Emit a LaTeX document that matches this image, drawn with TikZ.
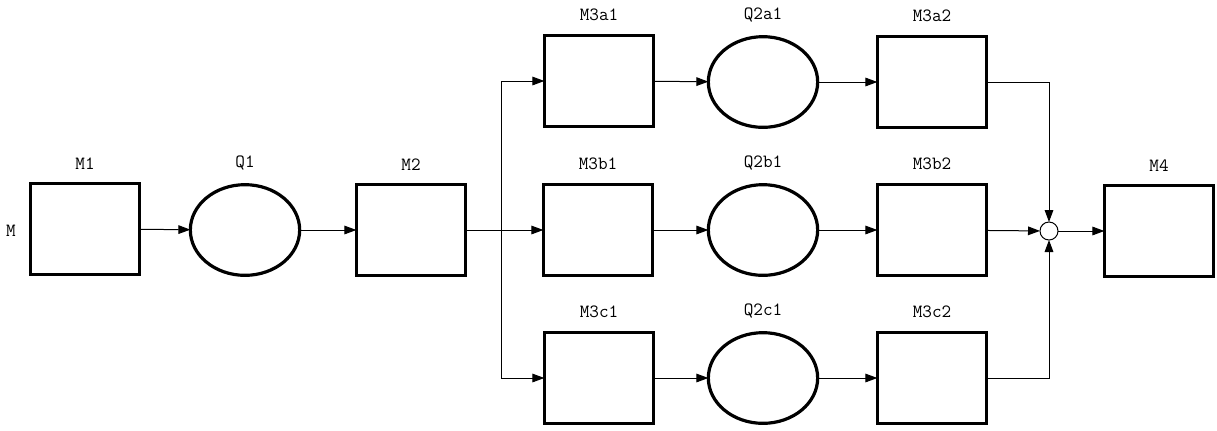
\documentclass[tikz,border=0pt]{standalone}
\usetikzlibrary{arrows.meta,shapes.geometric}
\begin{document}
\begin{tikzpicture}[x=0.75pt,y=-0.75pt,
  every node/.style={inner sep=0pt,outer sep=0pt},
  lbl/.style={font=\ttfamily\fontsize{14pt}{16pt}\selectfont},
  blk/.style={draw,line width=2.3pt,minimum width=82pt,minimum height=68pt,
    label={[lbl,label distance=11pt]above:#1}},
  que/.style={draw,ellipse,line width=2.4pt,minimum width=82pt,minimum height=68pt,
    label={[lbl,label distance=11pt]above:#1}},
  arr/.style={line width=0.75pt,-{Triangle[length=9pt,width=6.5pt]}},
  ln/.style={line width=0.75pt}]
\useasboundingbox (0,0) rectangle (1217,430);

% first stage
\node[lbl] (m) at (11,231) {M};
\node[blk=M1] (M1) at (85,229) {};
\node[que=Q1] (Q1) at (245,230) {};
\node[blk=M2] (M2) at (411,230) {};

% three parallel lines
\node[blk=M3a1] (M3a1) at (599,81) {};
\node[que=Q2a1] (Q2a1) at (763,82) {};
\node[blk=M3a2] (M3a2) at (932,82) {};

\node[blk=M3b1] (M3b1) at (598,230) {};
\node[que=Q2b1] (Q2b1) at (763,230) {};
\node[blk=M3b2] (M3b2) at (932,230) {};

\node[blk=M3c1] (M3c1) at (599,378) {};
\node[que=Q2c1] (Q2c1) at (763,378) {};
\node[blk=M3c2] (M3c2) at (932,378) {};

% merge point and final stage
\node[draw,circle,line width=0.75pt,minimum size=13.5pt] (J) at (1049,231) {};
\node[blk=M4] (M4) at (1159,231) {};

\coordinate (split) at (501,230);

\draw[arr] (M1) -- (Q1);
\draw[arr] (Q1) -- (M2);
\draw[arr] (M2) -- (M3b1);
\draw[ln] (M2.east) -- (split);
\draw[arr] (split) |- (M3a1.west);
\draw[arr] (split) |- (M3c1.west);

\draw[arr] (M3a1) -- (Q2a1);
\draw[arr] (Q2a1) -- (M3a2);
\draw[arr] (M3b1) -- (Q2b1);
\draw[arr] (Q2b1) -- (M3b2);
\draw[arr] (M3c1) -- (Q2c1);
\draw[arr] (Q2c1) -- (M3c2);

\draw[arr] (M3a2.east) -| (J.north);
\draw[arr] (M3b2) -- (J);
\draw[arr] (M3c2.east) -| (J.south);
\draw[arr] (J) -- (M4);
\end{tikzpicture}
\end{document}
